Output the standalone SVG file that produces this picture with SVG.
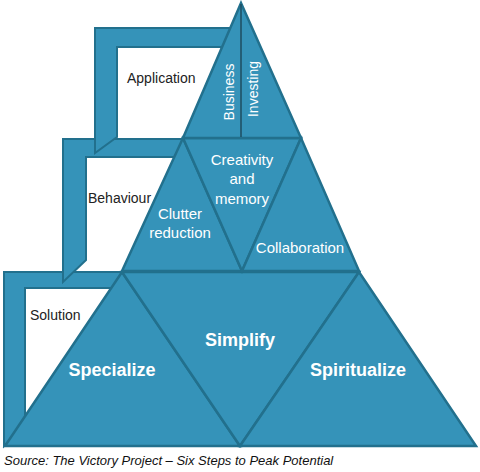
<svg xmlns="http://www.w3.org/2000/svg" width="480" height="472" viewBox="0 0 480 472">
<style>
.sh{fill:#3593B9;stroke:#22708D;stroke-width:2.5;stroke-linejoin:miter}
.fr{fill:#3593B9;stroke:#22708D;stroke-width:2;stroke-linejoin:miter}
.lb{font-family:"Liberation Sans",Arial,sans-serif;font-size:14px;fill:#222}
.wt{font-family:"Liberation Sans",Arial,sans-serif;font-size:15px;fill:#fff;text-anchor:middle}
.bg{font-family:"Liberation Sans",Arial,sans-serif;font-size:18px;font-weight:bold;fill:#fff;text-anchor:middle}
.cap{font-family:"Liberation Sans",Arial,sans-serif;font-size:13px;font-style:italic;fill:#111}
</style>
<rect width="480" height="472" fill="#fff"/>
<g id="frame-solution">
<polygon class="fr" points="4,272 130,272 114,288 25,288 25,425 4,446"/>
<text class="lb" x="30" y="320">Solution</text>
</g>
<g id="frame-behaviour">
<polygon class="fr" points="63,139 192,139 174,157 86,157 86,260 63,282"/>
<text class="lb" x="88" y="203">Behaviour</text>
</g>
<g id="frame-application">
<polygon class="fr" points="95,28 240,28 222,47 117,47 117,137 95,153"/>
<text class="lb" x="127" y="83">Application</text>
</g>
<g id="connectors"></g>
<g id="specialize">
<polygon class="sh" points="5,446 122,272 240,446"/>
<text class="bg" x="112" y="376">Specialize</text>
</g>
<g id="simplify">
<polygon class="sh" points="122,272 359,272 240,446"/>
<text class="bg" x="240" y="346">Simplify</text>
</g>
<g id="spiritualize">
<polygon class="sh" points="240,446 359,272 476,446"/>
<text class="bg" x="358" y="376">Spiritualize</text>
</g>
<g id="clutter-reduction">
<polygon class="sh" points="122,271 183,138 242,271"/>
<text class="wt" x="180" y="219">Clutter</text>
<text class="wt" x="180" y="238">reduction</text>
</g>
<g id="creativity-memory">
<polygon class="sh" points="183,138 301,138 242,271"/>
<text class="wt" x="242" y="165">Creativity</text>
<text class="wt" x="242" y="184">and</text>
<text class="wt" x="242" y="204">memory</text>
</g>
<g id="collaboration">
<polygon class="sh" points="242,271 301,138 359,271"/>
<text class="wt" x="300" y="253">Collaboration</text>
</g>
<g id="top">
<polygon class="sh" points="183,138 241,3 301,138"/>
<line x1="241" y1="4" x2="241" y2="137" stroke="#1E4D60" stroke-width="1.5"/>
<text class="wt" transform="translate(234,92) rotate(-90)" style="font-size:14px">Business</text>
<text class="wt" transform="translate(258,89) rotate(-90)" style="font-size:14px">Investing</text>
</g>
<text class="cap" x="4" y="465">Source: The Victory Project – Six Steps to Peak Potential</text>
</svg>
